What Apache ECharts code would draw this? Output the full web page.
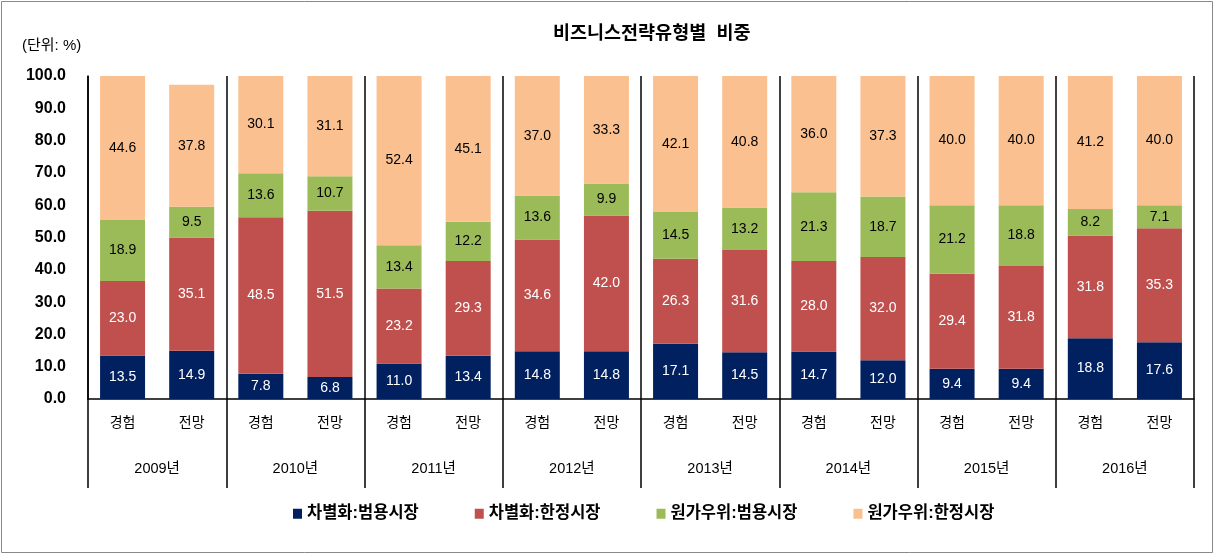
<!DOCTYPE html>
<html><head><meta charset="utf-8">
<script src="https://cdn.jsdelivr.net/npm/echarts@6/dist/echarts.min.js"></script>
<style>html,body{margin:0;padding:0;background:#fff}#c{width:1215px;height:555px}</style>
</head><body><div id="c"></div>
<script>
var years = ['2009년','2010년','2011년','2012년','2013년','2014년','2015년','2016년'];
var categories = ['경험','전망','경험','전망','경험','전망','경험','전망','경험','전망','경험','전망','경험','전망','경험','전망'];
var seriesNames = ['차별화:범용시장','차별화:한정시장','원가우위:범용시장','원가우위:한정시장'];
var diffGeneral = [13.5,14.9,7.8,6.8,11.0,13.4,14.8,14.8,17.1,14.5,14.7,12.0,9.4,9.4,18.8,17.6];
var diffNiche   = [23.0,35.1,48.5,51.5,23.2,29.3,34.6,42.0,26.3,31.6,28.0,32.0,29.4,31.8,31.8,35.3];
var costGeneral = [18.9,9.5,13.6,10.7,13.4,12.2,13.6,9.9,14.5,13.2,21.3,18.7,21.2,18.8,8.2,7.1];
var costNiche   = [44.6,37.8,30.1,31.1,52.4,45.1,37.0,33.3,42.1,40.8,36.0,37.3,40.0,40.0,41.2,40.0];
var colors = ['#002060','#C0504D','#9BBB59','#FAC090'];
var labelColors = ['#ffffff','#ffffff','#000000','#000000'];
var values = [diffGeneral, diffNiche, costGeneral, costNiche];

var FONT = "'Liberation Sans', Arial, 'Noto Sans CJK KR', sans-serif";
var chart = echarts.init(document.getElementById('c'), null, {renderer:'canvas'});
var series = values.map(function(v,i){
  return {
    name: seriesNames[i], type:'bar', stack:'s', data:v, barWidth:45,
    itemStyle:{color:colors[i]},
    label:{show:true, position:'inside', color:labelColors[i], fontSize:14, fontFamily:FONT,
      formatter:function(p){return p.value.toFixed(1);}},
    emphasis:{disabled:true}
  };
});
chart.setOption({
  animation:false,
  backgroundColor:'#ffffff',
  textStyle:{fontFamily:FONT},
  title:[
    {text:'비즈니스전략유형별  비중', left:548, top:20,
     textStyle:{fontSize:18.5, fontWeight:'bold', color:'#000', fontFamily:FONT}},
    {text:'(단위: %)', left:17, top:33,
     textStyle:{fontSize:15, fontWeight:'normal', color:'#000', fontFamily:FONT}}
  ],
  legend:{
    bottom:28, left:288, itemWidth:9, itemHeight:10, itemGap:56,
    icon:'rect',
    textStyle:{fontSize:16.5, fontWeight:'bold', color:'#000', fontFamily:FONT},
    data:seriesNames
  },
  grid:{left:88, right:21, top:76, bottom:156, containLabel:false},
  xAxis:[
    {type:'category', data:categories, position:'bottom',
     axisLine:{show:true, lineStyle:{color:'#000', width:1.5}},
     axisTick:{show:false},
     axisLabel:{interval:0, margin:17, fontSize:14, color:'#000', fontFamily:FONT}},
    {type:'category', data:years, position:'bottom',
     axisLine:{show:false},
     axisTick:{show:true, length:89, interval:0, lineStyle:{color:'#000', width:1.5}},
     splitLine:{show:true, interval:0, lineStyle:{color:'#000', width:1.5}},
     axisLabel:{interval:0, margin:63, fontSize:14.5, color:'#000', fontFamily:FONT}}
  ],
  yAxis:{type:'value', min:0, max:100, interval:10,
    axisLine:{show:true, lineStyle:{color:'#000', width:1.5}},
    axisTick:{show:false},
    splitLine:{show:false},
    axisLabel:{margin:22, fontSize:16, fontWeight:'bold', color:'#000', fontFamily:FONT,
      formatter:function(v){return v.toFixed(1);}}},
  series:series,
  graphic:[{type:'rect', shape:{x:1.5, y:1.5, width:1211, height:551},
    style:{fill:'none', stroke:'#888888', lineWidth:1}, silent:true}]
});
</script></body></html>
